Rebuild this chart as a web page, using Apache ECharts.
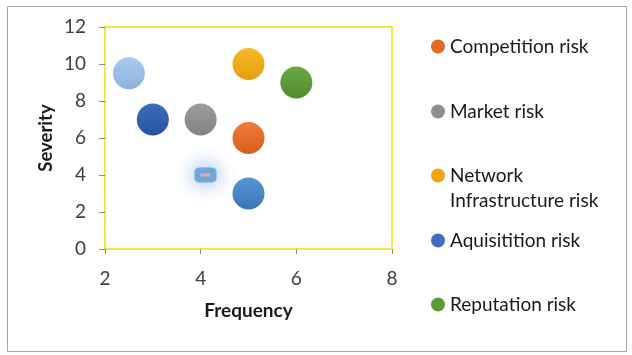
<!DOCTYPE html>
<html>
<head>
<meta charset="utf-8">
<script src="https://cdn.jsdelivr.net/npm/echarts@6/dist/echarts.min.js"></script>
<style>
html,body{margin:0;padding:0;background:#fff;}
#chart{width:632px;height:355px;}
</style>
</head>
<body>
<div id="chart"></div>
<script>
// Legend series
const seriesNames = ['Competition risk', 'Market risk', 'Network Infrastructure risk', 'Aquisitition risk', 'Reputation risk'];
const frequency = [5, 4, 5, 5, 6];
const severity = [6, 7, 10, 3, 9];
const topColors = ['#ef7c38', '#9c9c9c', '#f6ba28', '#5694d3', '#6ca946'];
const bottomColors = ['#d65e1c', '#838383', '#e79d0e', '#3d75b6', '#4f8a2e'];
const legendColors = ['#e26a27', '#8f8f8f', '#eda516', '#3f6fc0', '#5d9a38'];

// Extra bubbles not listed in the legend
const extraFrequency = [2.5, 3];
const extraSeverity = [9.5, 7];
const extraTop = ['#a9c9ec', '#3b6ec2'];
const extraBottom = ['#8db2dd', '#28529c'];

// Faint glow marker
const glowFrequency = [4.1];
const glowSeverity = [4];

// Axis ticks
const xTicks = [2, 4, 6, 8];
const yTicks = [0, 2, 4, 6, 8, 10, 12];

const FONT = 'Lato, "Open Sans", sans-serif';

function grad(t, b) {
  return new echarts.graphic.LinearGradient(0, 0, 0, 1, [
    { offset: 0, color: t }, { offset: 1, color: b }
  ]);
}

const series = [];
extraFrequency.forEach((f, i) => {
  series.push({
    name: 'extra' + i,
    type: 'scatter',
    symbolSize: 32,
    data: [[f, extraSeverity[i]]],
    itemStyle: { color: grad(extraTop[i], extraBottom[i]), opacity: 1 },
    z: 2
  });
});
series.push({
  name: 'glow',
  type: 'scatter',
  symbol: 'roundRect',
  symbolSize: [22, 15],
  data: glowFrequency.map((f, i) => [f, glowSeverity[i]]),
  itemStyle: { color: '#5e9edb', shadowBlur: 20, shadowColor: '#4a8fd6', opacity: 0.85 },
  z: 2
});
series.push({
  name: 'glowDash',
  type: 'scatter',
  symbol: 'rect',
  symbolSize: [10, 3],
  data: glowFrequency.map((f, i) => [f, glowSeverity[i]]),
  itemStyle: { color: '#e8aaa6', opacity: 1 },
  z: 3
});
seriesNames.forEach((n, i) => {
  series.push({
    name: n,
    type: 'scatter',
    symbolSize: 32,
    data: [[frequency[i], severity[i]]],
    itemStyle: { color: grad(topColors[i], bottomColors[i]), opacity: 1 },
    z: 2
  });
});

const legendTops = [37, 102, 166, 231, 295];
const legends = seriesNames.map((n, i) => ({
  data: [{ name: n, itemStyle: { color: legendColors[i], opacity: 1 } }],
  orient: 'vertical',
  left: 431,
  top: legendTops[i],
  padding: 0,
  icon: 'circle',
  itemWidth: 14,
  itemHeight: 14,
  selectedMode: false,
  formatter: name => name === 'Network Infrastructure risk' ? 'Network' : name,
  textStyle: { fontFamily: FONT, fontSize: 19, color: '#1a1a1a' }
}));

const chart = echarts.init(document.getElementById('chart'));
chart.setOption({
  animation: false,
  backgroundColor: '#fff',
  grid: {
    left: 105, right: 240, top: 27, bottom: 106,
    show: true, borderColor: '#ecec3c', borderWidth: 2, backgroundColor: 'transparent'
  },
  legend: legends,
  xAxis: {
    type: 'value', min: xTicks[0], max: xTicks[xTicks.length - 1], interval: 2,
    name: 'Frequency', nameLocation: 'middle', nameGap: 52,
    nameTextStyle: { fontFamily: FONT, fontSize: 19, fontWeight: 'bold', color: '#1a1a1a' },
    axisLine: { show: false },
    axisTick: { show: true, length: 5, lineStyle: { color: '#8c8c8c' } },
    axisLabel: { fontFamily: FONT, fontSize: 19, color: '#404040', margin: 20 },
    splitLine: { show: false }
  },
  yAxis: {
    type: 'value', min: yTicks[0], max: yTicks[yTicks.length - 1], interval: 2,
    name: 'Severity', nameLocation: 'middle', nameGap: 49, nameRotate: 90,
    nameTextStyle: { fontFamily: FONT, fontSize: 18.5, fontWeight: 'bold', color: '#1a1a1a' },
    axisLine: { show: false },
    axisTick: { show: true, length: 6, lineStyle: { color: '#8c8c8c' } },
    axisLabel: { fontFamily: FONT, fontSize: 19, color: '#404040', margin: 19 },
    splitLine: { show: false }
  },
  graphic: [
    {
      type: 'rect', left: 5, top: 4, z: -1,
      shape: { width: 619, height: 345 },
      style: { fill: 'none', stroke: '#a6a6a6', lineWidth: 1 }
    },
    {
      type: 'text', left: 450, top: 191,
      style: { text: 'Infrastructure risk', font: '19px ' + FONT, fill: '#1a1a1a' }
    }
  ],
  series: series
});
</script>
</body>
</html>
